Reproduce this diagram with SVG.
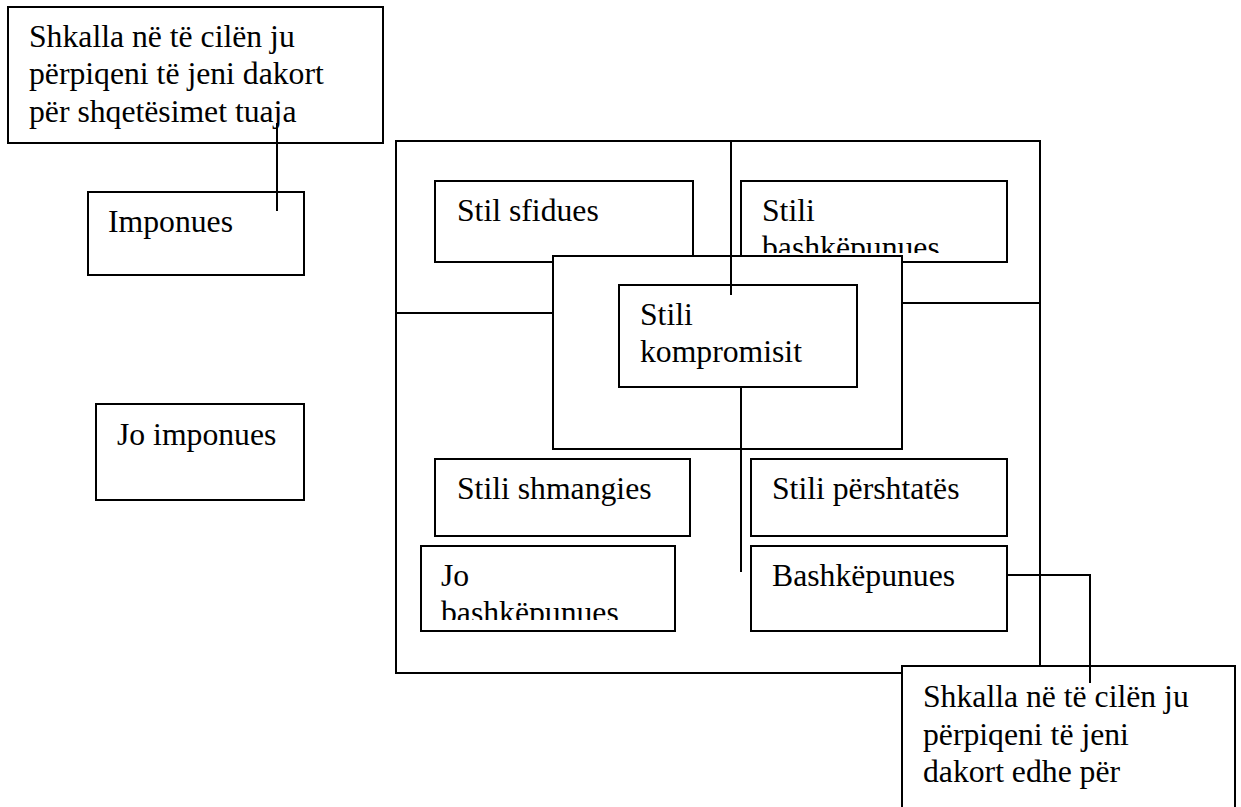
<svg xmlns="http://www.w3.org/2000/svg" width="1241" height="807" viewBox="0 0 1241 807">
<style>
.box{fill:#fff;stroke:#000;stroke-width:2}
.frame{fill:none;stroke:#000;stroke-width:2}
.t{font-family:"Liberation Serif","Times New Roman",serif;font-size:31.7px;fill:#000}
.c{fill:none;stroke:#000;stroke-width:2}
</style>
<defs>
<clipPath id="clipBash"><rect x="741" y="181" width="266" height="72"/></clipPath>
<clipPath id="clipJo"><rect x="421" y="546" width="254" height="74"/></clipPath>
</defs>
<rect width="1241" height="807" fill="#fff"/>
<g id="outer"><rect class="frame" x="396" y="141" width="644" height="532"/></g>
<g id="asertiv"><rect class="box" x="8" y="7" width="375" height="136"/>
<text class="t" x="29" y="47">Shkalla në të cilën ju</text>
<text class="t" x="29" y="84">përpiqeni të jeni dakort</text>
<text class="t" x="29" y="122">për shqetësimet tuaja</text></g>
<g id="imponues"><rect class="box" x="88" y="192" width="216" height="83"/><text class="t" x="108" y="232">Imponues</text></g>
<g id="jo-imponues"><rect class="box" x="96" y="404" width="208" height="96"/><text class="t" x="117" y="445">Jo imponues</text></g>
<g id="sfidues"><rect class="box" x="435" y="181" width="258" height="81"/><text class="t" x="457" y="221">Stil sfidues</text></g>
<g id="bashkepunues-stil"><rect class="box" x="741" y="181" width="266" height="81"/>
<g clip-path="url(#clipBash)"><text class="t" x="762" y="221">Stili</text><text class="t" x="762" y="258">bashkëpunues</text></g></g>
<g id="middle"><rect class="box" x="553" y="256" width="349" height="193"/></g>
<g id="kompromisit"><rect class="box" x="619" y="285" width="238" height="102"/>
<text class="t" x="640" y="325">Stili</text><text class="t" x="640" y="362">kompromisit</text></g>
<g id="shmangies"><rect class="box" x="435" y="459" width="255" height="77"/><text class="t" x="457" y="499">Stili shmangies</text></g>
<g id="pershtates"><rect class="box" x="751" y="459" width="256" height="77"/><text class="t" x="772" y="499">Stili përshtatës</text></g>
<g id="jo-bashkepunues"><rect class="box" x="421" y="546" width="254" height="85"/>
<g clip-path="url(#clipJo)"><text class="t" x="441" y="586">Jo</text><text class="t" x="441" y="623">bashkëpunues</text></g></g>
<g id="bashkepunues"><rect class="box" x="751" y="546" width="256" height="85"/><text class="t" x="772" y="586">Bashkëpunues</text></g>
<g id="kooperativ"><rect class="box" x="902" y="666" width="333" height="160"/>
<text class="t" x="923" y="707">Shkalla në të cilën ju</text>
<text class="t" x="923" y="745">përpiqeni të jeni</text>
<text class="t" x="923" y="782">dakort edhe për</text></g>
<g id="connectors">
<line class="c" x1="277" y1="123" x2="277" y2="211"/>
<line class="c" x1="731" y1="141" x2="731" y2="295"/>
<line class="c" x1="741" y1="387" x2="741" y2="572"/>
<line class="c" x1="396" y1="313" x2="553" y2="313"/>
<line class="c" x1="902" y1="303" x2="1040" y2="303"/>
<polyline class="c" points="1007,575 1090,575 1090,683"/>
</g>
</svg>
